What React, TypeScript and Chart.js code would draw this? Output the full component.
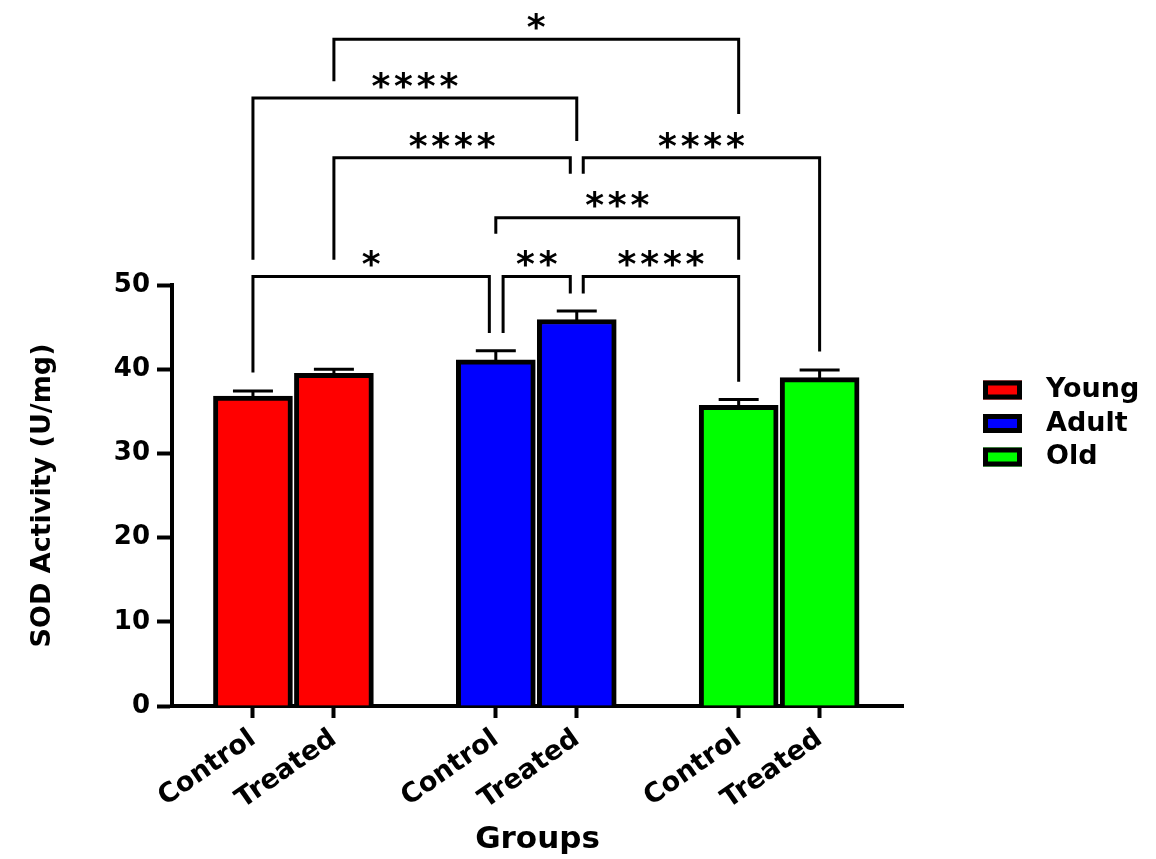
import React, { useEffect, useRef } from 'react';
import { Chart, registerables } from 'chart.js';

Chart.register(...registerables);

// ---------- data ----------
const groups = ['Young', 'Adult', 'Old'];
const conditionLabels = ['Control', 'Treated'];
const slotPositions = [[1, 2], [4, 5], [7, 8]];
const youngMeans = [36.8, 39.5];
const adultMeans = [41.1, 45.9];
const oldMeans = [35.7, 39.0];
const youngErr = [0.6, 0.5];
const adultErr = [1.1, 1.0];
const oldErr = [0.7, 0.9];
const groupColors = ['#FF0000', '#0000FF', '#00FF00'];
const yTickValues = [0, 10, 20, 30, 40, 50];

// significance brackets (x in slot units, y in U/mg)
const bracketStart = [1.0, 4.09, 5.08, 4.0, 2.0, 5.08, 1.0, 2.0];
const bracketEnd = [3.92, 4.92, 7.0, 7.0, 4.92, 8.0, 5.0, 7.0];
const bracketLevel = [51.0, 51.0, 51.0, 58.0, 65.1, 65.1, 72.2, 79.2];
const bracketLeftEnd = [39.6, 44.3, 49.0, 56.1, 53.0, 63.2, 53.0, 74.2];
const bracketRightEnd = [44.3, 49.0, 38.5, 53.0, 63.2, 42.1, 67.1, 70.3];
const bracketLabels = ['*', '**', '****', '***', '****', '****', '****', '*'];

const means = [youngMeans, adultMeans, oldMeans];
const errs = [youngErr, adultErr, oldErr];

const FONT = 'DejaVu Sans';

function labelForPosition(v: number): string {
  for (let g = 0; g < slotPositions.length; g++) {
    for (let i = 0; i < slotPositions[g].length; i++) {
      if (Math.abs(slotPositions[g][i] - v) < 1e-6) return conditionLabels[i];
    }
  }
  return '';
}

const errorBarPlugin = {
  id: 'errorBars',
  afterDatasetsDraw(chart: any) {
    const ctx = chart.ctx;
    const ys = chart.scales.y;
    chart.data.datasets.forEach((ds: any, di: number) => {
      const meta = chart.getDatasetMeta(di);
      meta.data.forEach((bar: any, i: number) => {
        const v = ds.data[i].y;
        const top = ys.getPixelForValue(v + ds.errors[i]);
        ctx.save();
        ctx.strokeStyle = '#000';
        ctx.lineWidth = 3;
        ctx.lineCap = 'butt';
        ctx.beginPath();
        ctx.moveTo(bar.x, bar.y + 2);
        ctx.lineTo(bar.x, top);
        ctx.moveTo(bar.x - 20, top);
        ctx.lineTo(bar.x + 20, top);
        ctx.stroke();
        ctx.restore();
      });
    });
  },
};

const bracketPlugin = {
  id: 'brackets',
  afterDraw(chart: any) {
    const ctx = chart.ctx;
    const xs = chart.scales.x;
    const ys = chart.scales.y;
    ctx.save();
    ctx.strokeStyle = '#000';
    ctx.fillStyle = '#000';
    ctx.lineWidth = 3;
    ctx.lineJoin = 'miter';
    ctx.lineCap = 'butt';
    ctx.font = `bold 36px "${FONT}"`;
    ctx.textAlign = 'center';
    ctx.textBaseline = 'alphabetic';
    const m = ctx.measureText('*');
    const asc = m.actualBoundingBoxAscent;
    const desc = m.actualBoundingBoxDescent;
    for (let b = 0; b < bracketLabels.length; b++) {
      const x1 = xs.getPixelForValue(bracketStart[b]);
      const x2 = xs.getPixelForValue(bracketEnd[b]);
      const yl = ys.getPixelForValue(bracketLevel[b]);
      const y1 = ys.getPixelForValue(bracketLeftEnd[b]);
      const y2 = ys.getPixelForValue(bracketRightEnd[b]);
      ctx.beginPath();
      ctx.moveTo(x1, y1);
      ctx.lineTo(x1, yl);
      ctx.lineTo(x2, yl);
      ctx.lineTo(x2, y2);
      ctx.stroke();
      const label = bracketLabels[b];
      const n = label.length;
      const cx = (x1 + x2) / 2;
      const cy = yl - 17.7;
      const baseline = cy - (desc - asc) / 2;
      for (let s = 0; s < n; s++) {
        ctx.fillText('*', cx + (s - (n - 1) / 2) * 22.7, baseline);
      }
    }
    ctx.restore();
  },
};

const customLegendPlugin = {
  id: 'customLegend',
  afterDraw(chart: any) {
    const ctx = chart.ctx;
    ctx.save();
    ctx.font = `bold 27px "${FONT}"`;
    ctx.textAlign = 'left';
    ctx.textBaseline = 'middle';
    chart.data.datasets.forEach((ds: any, i: number) => {
      const cy = 390 + i * 33.5;
      const bx = 983;
      const bw = 39;
      const bh = 19;
      ctx.fillStyle = ds.backgroundColor;
      ctx.fillRect(bx, cy - bh / 2, bw, bh);
      ctx.strokeStyle = '#000';
      ctx.lineWidth = 5;
      ctx.strokeRect(bx + 2.5, cy - bh / 2 + 2.5, bw - 5, bh - 5);
      ctx.fillStyle = '#000';
      ctx.fillText(ds.label, 1046, cy);
    });
    ctx.restore();
  },
};

export default function App() {
  const canvasRef = useRef<HTMLCanvasElement | null>(null);

  useEffect(() => {
    if (!canvasRef.current) return;
    const tickPositions = slotPositions.flat();
    const chart = new Chart(canvasRef.current, {
      type: 'bar',
      data: {
        datasets: groups.map((g, gi) => ({
          label: g,
          data: slotPositions[gi].map((x, i) => ({ x, y: means[gi][i] })),
          errors: errs[gi],
          backgroundColor: groupColors[gi],
          borderColor: '#000000',
          borderWidth: 5,
          barThickness: 79,
          grouped: false,
        })) as any,
      },
      options: {
        responsive: false,
        maintainAspectRatio: false,
        animation: false,
        layout: { padding: { top: 285, right: 253, bottom: 0, left: 0 } },
        plugins: {
          legend: { display: false },
          tooltip: { enabled: false },
        },
        scales: {
          x: {
            type: 'linear',
            min: 0,
            max: 9.03,
            bounds: 'data',
            offset: false,
            afterBuildTicks: (scale: any) => {
              scale.ticks = tickPositions.map((v) => ({ value: v }));
            },
            afterFit: (scale: any) => {
              scale.height = 153;
            },
            ticks: {
              autoSkip: false,
              minRotation: 35,
              maxRotation: 35,
              padding: 5,
              color: '#000',
              font: { family: FONT, weight: 'bold', size: 27 },
              callback: (v: any) => labelForPosition(Number(v)),
            },
            grid: {
              display: true,
              offset: false,
              drawOnChartArea: false,
              drawTicks: true,
              tickLength: 12,
              tickWidth: 4,
              tickColor: '#000',
              color: '#000',
            },
            border: { display: true, color: '#000', width: 4 },
            title: {
              display: true,
              text: 'Groups',
              color: '#000',
              font: { family: FONT, weight: 'bold', size: 31 },
              padding: { top: 0, bottom: 0 },
            },
          },
          y: {
            type: 'linear',
            min: 0,
            max: 50,
            afterBuildTicks: (scale: any) => {
              scale.ticks = yTickValues.map((v) => ({ value: v }));
            },
            afterFit: (scale: any) => {
              scale.width = 172;
            },
            ticks: {
              color: '#000',
              padding: 7,
              font: { family: FONT, weight: 'bold', size: 26 },
            },
            grid: {
              display: true,
              drawOnChartArea: false,
              drawTicks: true,
              tickLength: 15,
              tickWidth: 4,
              tickColor: '#000',
              color: '#000',
            },
            border: { display: true, color: '#000', width: 4 },
            title: {
              display: true,
              text: 'SOD Activity (U/mg)',
              color: '#000',
              font: { family: FONT, weight: 'bold', size: 27 },
              padding: { top: 27, bottom: 0 },
            },
          },
        },
      } as any,
      plugins: [errorBarPlugin, bracketPlugin, customLegendPlugin],
    });
    return () => chart.destroy();
  }, []);

  return (
    <div style={{ position: 'absolute', left: 0, top: 0, width: 1156, height: 859, background: '#fff' }}>
      <canvas ref={canvasRef} width={1156} height={859} style={{ display: 'block' }} />
    </div>
  );
}
